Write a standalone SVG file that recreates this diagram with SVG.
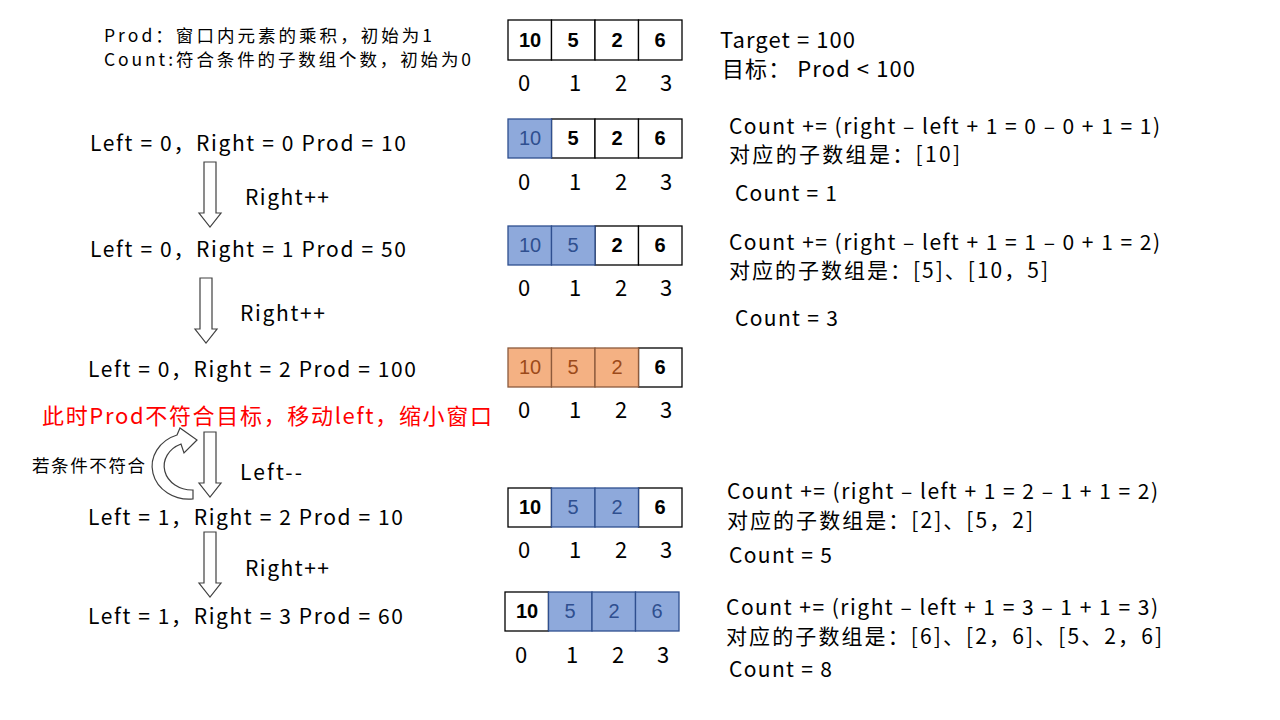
<svg xmlns="http://www.w3.org/2000/svg" width="1280" height="720" viewBox="0 0 1280 720">
<style>
.t{font-family:"Noto Sans CJK SC","Noto Sans",sans-serif;fill:#000;}
.s16{font-size:17.5px;}
.s21{font-size:21px;}
.s22{font-size:22px;}
.red{fill:#FF0000;}
.cell{fill:#FFFFFF;stroke:#000;stroke-width:1.3;}
.blue{fill:#8EA9DB;stroke:#2F4F8F;stroke-width:1.3;}
.org{fill:#F4B183;stroke:#8C5A3C;stroke-width:1.3;}
.num{font-family:"Liberation Sans",Arial,sans-serif;font-size:20px;font-weight:bold;text-anchor:middle;fill:#000;}
.nb{fill:#2F4F8F;font-weight:normal;}
.no{fill:#9C4A1A;font-weight:normal;}
.idx{font-family:"Noto Sans CJK SC","Noto Sans",sans-serif;font-size:22px;text-anchor:middle;fill:#000;}
.arr{fill:#FFFFFF;stroke:#404040;stroke-width:1.2;}
</style>
<defs>
<path id="down" d="M-6,0 H6 V51 H11 L0,65 L-11,51 H-6 Z"/>
</defs>

<g id="legend">
<text class="t s16" x="104" y="42" textLength="328" lengthAdjust="spacing">Prod：窗口内元素的乘积，初始为1</text>
<text class="t s16" x="104" y="66" textLength="367" lengthAdjust="spacing">Count:符合条件的子数组个数，初始为0</text>
</g>
<g id="target">
<text class="t s22" x="720" y="48" textLength="135" lengthAdjust="spacing">Target = 100</text>
<text class="t s22" x="722" y="77" textLength="193" lengthAdjust="spacing">目标：  Prod &lt; 100</text>
</g>

<g id="array0">
<rect class="cell" x="508" y="20" width="43.5" height="40"/>
<rect class="cell" x="551.5" y="20" width="43.5" height="40"/>
<rect class="cell" x="595" y="20" width="43.5" height="40"/>
<rect class="cell" x="638.5" y="20" width="43.5" height="40"/>
<text class="num" x="530" y="47">10</text><text class="num" x="573" y="47">5</text><text class="num" x="617" y="47">2</text><text class="num" x="660" y="47">6</text>
<text class="idx" x="524" y="91">0</text><text class="idx" x="575" y="91">1</text><text class="idx" x="621" y="91">2</text><text class="idx" x="666" y="91">3</text>
</g>

<g id="array1">
<rect class="cell" x="551.5" y="119" width="43.5" height="39"/>
<rect class="cell" x="595" y="119" width="43.5" height="39"/>
<rect class="cell" x="638.5" y="119" width="43.5" height="39"/>
<rect class="blue" x="508" y="119" width="43.5" height="39"/>
<text class="num nb" x="530" y="145">10</text><text class="num" x="573" y="145">5</text><text class="num" x="617" y="145">2</text><text class="num" x="660" y="145">6</text>
<text class="idx" x="524" y="190">0</text><text class="idx" x="575" y="190">1</text><text class="idx" x="621" y="190">2</text><text class="idx" x="666" y="190">3</text>
</g>

<g id="array2">
<rect class="cell" x="595" y="226" width="43.5" height="39"/>
<rect class="cell" x="638.5" y="226" width="43.5" height="39"/>
<rect class="blue" x="508" y="226" width="43.5" height="39"/>
<rect class="blue" x="551.5" y="226" width="43.5" height="39"/>
<text class="num nb" x="530" y="252">10</text><text class="num nb" x="573" y="252">5</text><text class="num" x="617" y="252">2</text><text class="num" x="660" y="252">6</text>
<text class="idx" x="524" y="296">0</text><text class="idx" x="575" y="296">1</text><text class="idx" x="621" y="296">2</text><text class="idx" x="666" y="296">3</text>
</g>

<g id="array3">
<rect class="cell" x="638.5" y="348" width="43.5" height="39"/>
<rect class="org" x="508" y="348" width="43.5" height="39"/>
<rect class="org" x="551.5" y="348" width="43.5" height="39"/>
<rect class="org" x="595" y="348" width="43.5" height="39"/>
<text class="num no" x="530" y="374">10</text><text class="num no" x="573" y="374">5</text><text class="num no" x="617" y="374">2</text><text class="num" x="660" y="374">6</text>
<text class="idx" x="524" y="418">0</text><text class="idx" x="575" y="418">1</text><text class="idx" x="621" y="418">2</text><text class="idx" x="666" y="418">3</text>
</g>

<g id="array4">
<rect class="cell" x="508" y="488" width="43.5" height="39"/>
<rect class="cell" x="638.5" y="488" width="43.5" height="39"/>
<rect class="blue" x="551.5" y="488" width="43.5" height="39"/>
<rect class="blue" x="595" y="488" width="43.5" height="39"/>
<text class="num" x="530" y="514">10</text><text class="num nb" x="573" y="514">5</text><text class="num nb" x="617" y="514">2</text><text class="num" x="660" y="514">6</text>
<text class="idx" x="524" y="558">0</text><text class="idx" x="575" y="558">1</text><text class="idx" x="621" y="558">2</text><text class="idx" x="666" y="558">3</text>
</g>

<g id="array5">
<rect class="cell" x="505" y="592" width="43.5" height="39"/>
<rect class="blue" x="548.5" y="592" width="43.5" height="39"/>
<rect class="blue" x="592" y="592" width="43.5" height="39"/>
<rect class="blue" x="635.5" y="592" width="43.5" height="39"/>
<text class="num" x="527" y="618">10</text><text class="num nb" x="570" y="618">5</text><text class="num nb" x="614" y="618">2</text><text class="num nb" x="657" y="618">6</text>
<text class="idx" x="521" y="663">0</text><text class="idx" x="572" y="663">1</text><text class="idx" x="618" y="663">2</text><text class="idx" x="663" y="663">3</text>
</g>

<g id="state0"><text class="t s21" x="90" y="151" textLength="316" lengthAdjust="spacing">Left = 0，Right = 0  Prod = 10</text></g>
<g id="state1"><text class="t s21" x="90" y="257" textLength="316" lengthAdjust="spacing">Left = 0，Right = 1  Prod = 50</text></g>
<g id="state2"><text class="t s21" x="88" y="377" textLength="328" lengthAdjust="spacing">Left = 0，Right = 2  Prod = 100</text></g>
<g id="note"><text class="t s22 red" x="42" y="424" textLength="450" lengthAdjust="spacing">此时Prod不符合目标，移动left，缩小窗口</text></g>
<g id="state3"><text class="t s21" x="88" y="525" textLength="315" lengthAdjust="spacing">Left = 1，Right = 2  Prod = 10</text></g>
<g id="state4"><text class="t s21" x="88" y="624" textLength="315" lengthAdjust="spacing">Left = 1，Right = 3  Prod = 60</text></g>

<g id="result1">
<text class="t s21" x="729" y="134" textLength="431" lengthAdjust="spacing">Count += (right – left + 1 = 0 – 0 + 1 = 1)</text>
<text class="t s21" x="729" y="162" textLength="231" lengthAdjust="spacing">对应的子数组是：[10]</text>
<text class="t s21" x="735" y="201" textLength="102" lengthAdjust="spacing">Count = 1</text>
</g>
<g id="result2">
<text class="t s21" x="729" y="250" textLength="431" lengthAdjust="spacing">Count += (right – left + 1 = 1 – 0 + 1 = 2)</text>
<text class="t s21" x="729" y="278" textLength="319" lengthAdjust="spacing">对应的子数组是：[5]、[10，5]</text>
<text class="t s21" x="735" y="326" textLength="103" lengthAdjust="spacing">Count = 3</text>
</g>
<g id="result3">
<text class="t s21" x="727" y="499" textLength="431" lengthAdjust="spacing">Count += (right – left + 1 = 2 – 1 + 1 = 2)</text>
<text class="t s21" x="727" y="528" textLength="306" lengthAdjust="spacing">对应的子数组是：[2]、[5，2]</text>
<text class="t s21" x="729" y="563" textLength="103" lengthAdjust="spacing">Count = 5</text>
</g>
<g id="result4">
<text class="t s21" x="726" y="615" textLength="432" lengthAdjust="spacing">Count += (right – left + 1 = 3 – 1 + 1 = 3)</text>
<text class="t s21" x="726" y="644" textLength="436" lengthAdjust="spacing">对应的子数组是：[6]、[2，6]、[5、2，6]</text>
<text class="t s21" x="729" y="677" textLength="103" lengthAdjust="spacing">Count = 8</text>
</g>

<g id="connectors">
<use href="#down" class="arr" x="210" y="162"/>
<use href="#down" class="arr" x="206" y="278"/>
<use href="#down" class="arr" x="210" y="432"/>
<use href="#down" class="arr" x="210" y="532"/>
<path class="arr" d="M193,499 A37,33 0 0 1 177,435 L180,428 L197,440 L184,453 L181,444 A28,24 0 0 0 193,490 Z"/>
<text class="t s21" x="245" y="205" textLength="84" lengthAdjust="spacing">Right++</text>
<text class="t s21" x="240" y="321" textLength="85" lengthAdjust="spacing">Right++</text>
<text class="t s21" x="240" y="480" textLength="62" lengthAdjust="spacing">Left--</text>
<text class="t s21" x="245" y="576" textLength="84" lengthAdjust="spacing">Right++</text>
<text class="t s16" x="32" y="472" textLength="113" lengthAdjust="spacing">若条件不符合</text>
</g>
</svg>
